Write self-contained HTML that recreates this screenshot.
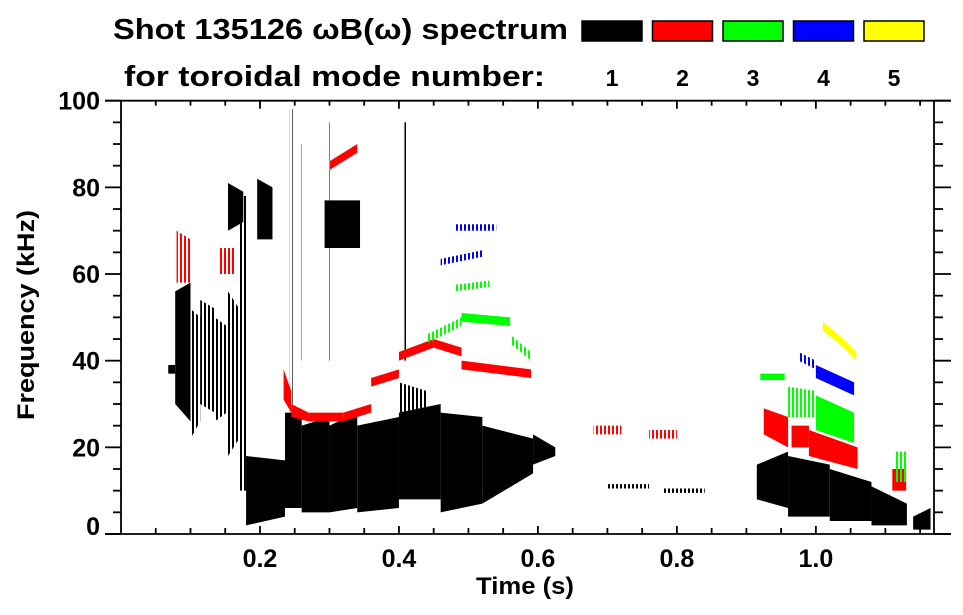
<!DOCTYPE html>
<html><head><meta charset="utf-8"><style>
html,body{margin:0;padding:0;background:#fff;}
svg{display:block;font-family:"Liberation Sans",sans-serif;font-weight:bold;}
</style></head><body>
<svg id="chart" width="963" height="615" viewBox="0 0 963 615" xmlns="http://www.w3.org/2000/svg">
<defs>
<pattern id="stripes" width="4" height="4" patternUnits="userSpaceOnUse"><rect width="2" height="4" fill="#fff"/></pattern>
<mask id="sparse"><rect x="0" y="0" width="963" height="615" fill="url(#stripes)"/></mask>
</defs>
<g>
<text x="113" y="39" font-size="29" textLength="455" lengthAdjust="spacingAndGlyphs">Shot 135126 ωB(ω) spectrum</text>
<text x="124" y="86" font-size="29" textLength="421" lengthAdjust="spacingAndGlyphs">for toroidal mode number:</text>
</g>
<g id="legend"></g>
<g id="marks"></g>
<g id="axes"></g>
<text x="525" y="594" font-size="24" text-anchor="middle" textLength="98" lengthAdjust="spacingAndGlyphs">Time (s)</text>
<text transform="translate(34,315) rotate(-90)" font-size="24" text-anchor="middle" textLength="210" lengthAdjust="spacingAndGlyphs">Frequency (kHz)</text>
</svg>
<script>
const modeLabels = ["1","2","3","4","5"];
const modeColors = ["#000000","#ff0000","#00ff00","#0000ff","#ffff00"];
const xTicks = [0.2,0.4,0.6,0.8,1.0];
const xTickLabels = ["0.2","0.4","0.6","0.8","1.0"];
const yTicks = [0,20,40,60,80,100];
const yTickLabels = ["0","20","40","60","80","100"];
// blobs: [t0, t1, fLow0, fHigh0, fLow1, fHigh1, sparse(1) or solid(0)]
const mode1Blobs = [
 [0.068,0.078,37,39,37,39,0],[0.078,0.100,30,56,26,58,0],[0.100,0.114,22,52,26,50,1],[0.114,0.135,30,54,28,52,1],[0.135,0.152,26,50,28,48,1],
 [0.154,0.170,18,56,22,52,1],[0.154,0.176,70,81,72,79,0],[0.170,0.182,10,78,10,78,1],[0.196,0.218,68,82,68,80,0],
 [0.18,0.236,2,18,4,17,0],[0.236,0.26,6,28,6,28,0],[0.26,0.30,5,25,5,27,0],[0.30,0.34,5,25,6,28,0],[0.34,0.40,5,25,6,27,0],
 [0.40,0.46,8,28,8,30,0],[0.40,0.44,28,35,28,33,1],[0.46,0.52,5,28,7,27,0],[0.52,0.593,7,25,14,22,0],[0.593,0.625,16,23,18,20,0],
 [0.293,0.344,66,77,66,77,0],[0.243,0.247,28,98,28,98,1],[0.26,0.263,40,90,40,90,1],[0.30,0.303,40,95,40,95,1],[0.408,0.411,40,95,40,95,1],
 [0.70,0.76,10.5,11.5,10.5,11.5,1],[0.78,0.84,9.5,10.5,9.5,10.5,1],
 [0.915,0.96,8,16,6,19,0],[0.96,1.02,4,18,4,16,0],[1.02,1.08,3,15,3,12,0],[1.08,1.131,2,11,2,7,0],[1.14,1.165,1,4,1,6,0]
];
const mode2Blobs = [
 [0.234,0.245,31,38,28,33,0],[0.245,0.27,27,30,26,28,0],[0.27,0.32,26,28,26,28,0],[0.32,0.36,26,28,28,30,0],
 [0.36,0.40,34,36,36,38,0],[0.40,0.45,40,42,43,45,0],[0.45,0.49,43,45,41,43,0],[0.49,0.59,38,40,36,38,0],
 [0.30,0.34,84,86,88,90,0],[0.08,0.10,58,70,58,68,1],[0.14,0.165,60,66,60,66,1],
 [0.925,0.96,23,29,20,27,0],[0.965,0.99,20,25,20,25,0],[0.99,1.06,18,24,15,20,0],[1.11,1.13,10,15,10,15,0],
 [0.68,0.72,23,25,23,25,1],[0.76,0.80,22,24,22,24,1]
];
const mode3Blobs = [
 [0.44,0.49,44,46,48,50,1],[0.49,0.56,49,51,48,50,0],[0.56,0.59,44,46,40,42,1],[0.48,0.53,56,57.5,57,58.5,1],
 [0.92,0.955,35.5,37,35.5,37,0],[0.96,1.00,27,34,27,33,1],[1.00,1.055,24,32,21,28,0],[1.115,1.13,12,19,12,19,1]
];
const mode4Blobs = [
 [0.46,0.52,62,63.5,64,65.5,1],[0.48,0.54,70,71.5,70,71.5,1],[0.975,1.00,40,42,38,40,1],[1.00,1.055,36,39,32,35,0]
];
const mode5Blobs = [
 [1.01,1.04,47,49,43,45,0],[1.04,1.058,43,45,40,42,0]
];
const allBlobs = [mode1Blobs, mode2Blobs, mode3Blobs, mode4Blobs, mode5Blobs];

const X0=121, X1=934, Y0=534, Y1=100.7, TMIN=0, TMAX=1.17, FMIN=0, FMAX=100;
const xs = t => X0 + (t-TMIN)/(TMAX-TMIN)*(X1-X0);
const ys = f => Y0 - (f-FMIN)/(FMAX-FMIN)*(Y0-Y1);
const NS="http://www.w3.org/2000/svg";
const mk=(tag,attrs,parent)=>{const e=document.createElementNS(NS,tag);for(const k in attrs)e.setAttribute(k,attrs[k]);parent.appendChild(e);return e;};

const legend=document.getElementById('legend');
modeLabels.forEach((lab,i)=>{
  const bx=582+i*70.5;
  const r=mk('rect',{x:bx,y:21,width:60,height:20,fill:modeColors[i],stroke:'#000','stroke-width':1.5},legend);
  
  
  const t=mk('text',{x:bx+30,y:86,'font-size':23,'text-anchor':'middle'},legend);
  t.textContent=lab;
  
  
});

const marks=document.getElementById('marks');
allBlobs.forEach((blobs,m)=>{
  blobs.forEach(b=>{
    const [t0,t1,l0,h0,l1,h1,sp]=b;
    const attrs={points:`${xs(t0)},${ys(l0)} ${xs(t0)},${ys(h0)} ${xs(t1)},${ys(h1)} ${xs(t1)},${ys(l1)}`,fill:modeColors[m]};
    if(sp) attrs.mask='url(#sparse)';
    const p=mk('polygon',attrs,marks);
    
    
  });
});

const axes=document.getElementById('axes');
const line=(x1,y1,x2,y2)=>mk('line',{x1,y1,x2,y2,stroke:'#000','stroke-width':1.8},axes);
line(105,Y0,951,Y0);line(105,Y1,951,Y1);line(X0,Y1,X0,Y0);line(X1,Y1,X1,Y0);
for(let f=0;f<=100;f+=5){
  const maj=f%20===0;
  line(maj?105:113,ys(f),X0,ys(f));
  line(X1,ys(f),maj?951:943,ys(f));
}
for(let k=1;k*0.05<TMAX;k++){
  const t=k*0.05, maj=k%4===0;
  line(xs(t),Y0,xs(t),Y0-(maj?8:6));
  line(xs(t),Y1,xs(t),Y1+(maj?8:5));
}
yTicks.forEach((v,i)=>{
  const t=mk('text',{x:100,y:ys(v)+(v===0?1:9),'font-size':25,'text-anchor':'end'},axes);
  t.textContent=yTickLabels[i];
  
  
});
xTicks.forEach((v,i)=>{
  const t=mk('text',{x:xs(v),y:567,'font-size':25,'text-anchor':'middle'},axes);
  t.textContent=xTickLabels[i];
  
  
});
</script>
</body></html>
